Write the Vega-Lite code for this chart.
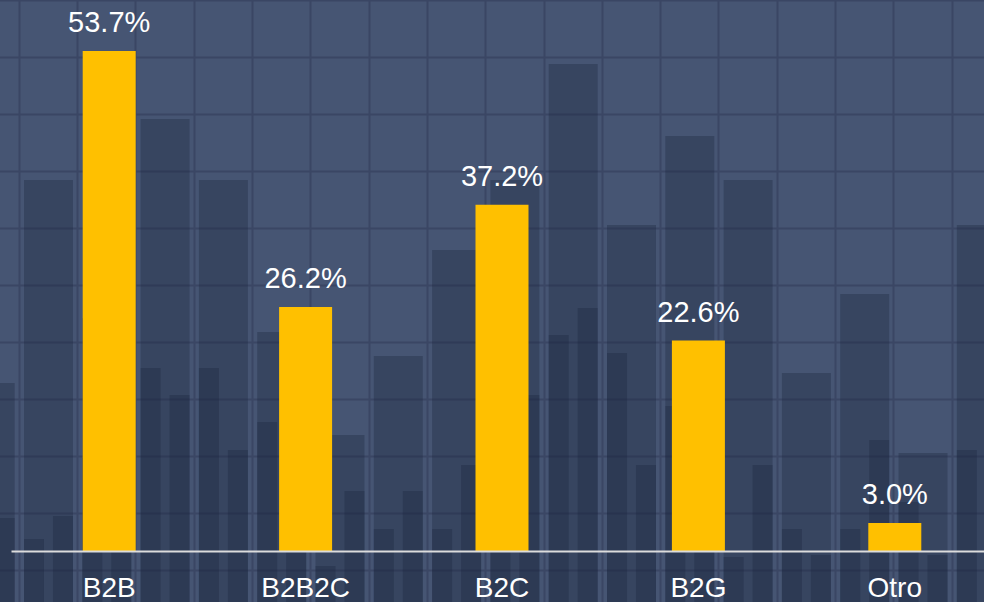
{
  "$schema": "https://vega.github.io/schema/vega-lite/v6.json",
  "width": 984,
  "height": 602,
  "padding": 0,
  "autosize": {"type": "none"},
  "background": "#465573",
  "config": {"view": {"stroke": null}, "font": "Liberation Sans"},
  "datasets": {
    "shares": [
      {"modelo": "B2B", "pct": 53.7},
      {"modelo": "B2B2C", "pct": 26.2},
      {"modelo": "B2C", "pct": 37.2},
      {"modelo": "B2G", "pct": 22.6},
      {"modelo": "Otro", "pct": 3.0}
    ],
    "skyline": [
      {"col": -1, "wide": 18.04, "left": 5.0, "right": 3.54},
      {"col": 0, "wide": 39.85, "left": 1.29, "right": 3.76},
      {"col": 1, "wide": 25.0, "left": 10.0, "right": 5.0},
      {"col": 2, "wide": 46.4, "left": 19.65, "right": 16.75},
      {"col": 3, "wide": 39.85, "left": 19.65, "right": 10.85},
      {"col": 4, "wide": 23.52, "left": 13.85, "right": 8.0},
      {"col": 5, "wide": 12.46, "left": -1.61, "right": 6.44},
      {"col": 6, "wide": 20.94, "left": 2.36, "right": 6.44},
      {"col": 7, "wide": 32.33, "left": 2.36, "right": 9.24},
      {"col": 8, "wide": 39.85, "left": 5.0, "right": 16.75},
      {"col": 9, "wide": 52.3, "left": 23.2, "right": 26.1},
      {"col": 10, "wide": 35.01, "left": 21.27, "right": 9.24},
      {"col": 11, "wide": 44.57, "left": 15.57, "right": 10.0},
      {"col": 12, "wide": 39.85, "left": -0.64, "right": 9.24},
      {"col": 13, "wide": 19.12, "left": 2.36, "right": -0.43},
      {"col": 14, "wide": 27.6, "left": 2.36, "right": 11.92},
      {"col": 15, "wide": 10.53, "left": 5.26, "right": -0.43},
      {"col": 16, "wide": 35.01, "left": 10.85, "right": 0.0}
    ]
  },
  "layer": [
    {
      "data": {"name": "skyline"},
      "layer": [
        {
          "mark": {"type": "bar", "color": "#1a263e", "opacity": 0.34},
          "encoding": {
            "x": {
              "field": "col", "type": "ordinal",
              "scale": {"domain": [-1,0,1,2,3,4,5,6,7,8,9,10,11,12,13,14,15,16], "range": [-34.3, 1005.8], "paddingInner": 0.16, "paddingOuter": 0},
              "axis": {"orient": "top", "title": null, "labels": false, "ticks": false, "domain": false, "grid": true, "bandPosition": -0.0954, "gridColor": "#3a4664", "gridWidth": 2}
            },
            "y": {
              "field": "wide", "type": "quantitative",
              "scale": {"domain": [-5.477, 59.18], "nice": false, "zero": false},
              "axis": {"values": [59.18, 53.06, 46.93, 40.81, 34.69, 28.57, 22.45, 16.32, 10.2, 4.08, -2.04], "title": null, "labels": false, "ticks": false, "domain": false, "grid": true, "gridColor": "#3a4664", "gridWidth": 2}
            },
            "y2": {"datum": -6}
          }
        },
        {
          "transform": [{"fold": ["left", "right"], "as": ["part", "top"]}],
          "mark": {"type": "bar", "color": "#1a263e", "opacity": 0.34},
          "encoding": {
            "x": {
              "field": "col", "type": "ordinal",
              "scale": {"domain": [-1,0,1,2,3,4,5,6,7,8,9,10,11,12,13,14,15,16], "range": [-34.3, 1005.8], "paddingInner": 0.16, "paddingOuter": 0},
              "axis": {"orient": "top", "title": null, "labels": false, "ticks": false, "domain": false, "grid": true, "bandPosition": -0.0954, "gridColor": "#3a4664", "gridWidth": 2}
            },
            "xOffset": {
              "field": "part", "type": "nominal",
              "scale": {"domain": ["left", "right"], "paddingInner": 0.31, "paddingOuter": 0}
            },
            "y": {"field": "top", "type": "quantitative"},
            "y2": {"datum": -6}
          }
        }
      ]
    },
    {
      "data": {"name": "shares"},
      "transform": [{"calculate": "format(datum.pct, '.1f') + '%'", "as": "label"}],
      "encoding": {
        "x": {
          "field": "modelo", "type": "nominal", "sort": null,
          "scale": {"range": [11, 993], "paddingInner": 0, "paddingOuter": 0},
          "axis": {"orient": "bottom", "offset": -51, "zindex": 2, "title": null, "labelAngle": 0, "ticks": false, "tickSize": 0, "grid": false, "domainColor": "#dcdcdc", "domainWidth": 2, "labelColor": "#ffffff", "labelFont": "Liberation Sans", "labelFontSize": 28, "labelPadding": 45, "labelBaseline": "alphabetic"}
        },
        "y": {"field": "pct", "type": "quantitative"}
      },
      "layer": [
        {
          "mark": {"type": "bar", "color": "#FFC000", "width": 53},
          "encoding": {"y2": {"datum": 0}}
        },
        {
          "mark": {"type": "text", "color": "#ffffff", "fontSize": 29, "font": "Liberation Sans", "align": "center", "baseline": "alphabetic", "dy": -19},
          "encoding": {"text": {"field": "label"}}
        }
      ]
    }
  ],
  "resolve": {"scale": {"x": "independent"}, "axis": {"x": "independent"}}
}
